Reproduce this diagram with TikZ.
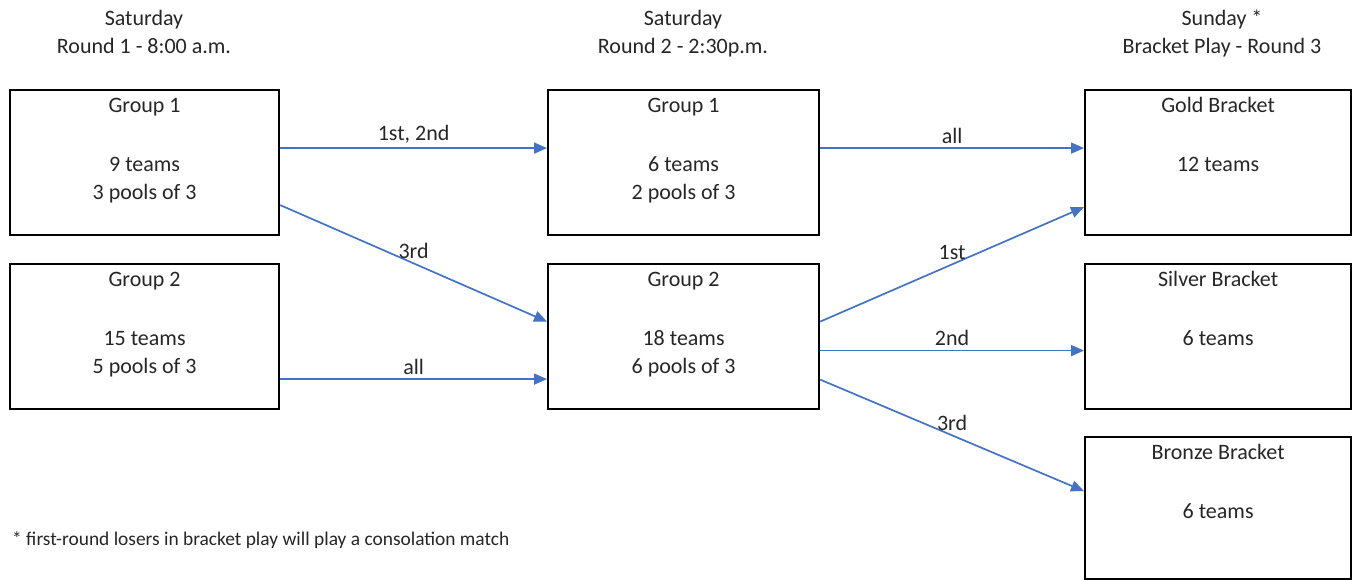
\documentclass[tikz,border=0pt]{standalone}
\usepackage{fontspec}
\setmainfont{Carlito}
\usetikzlibrary{arrows.meta}

\definecolor{arrowblue}{HTML}{4472C4}
\definecolor{txtgray}{HTML}{262626}

% text of a box: first line near the top, the rest lower down
\newcommand{\boxlines}[3][145pt]{\parbox[c][#1][t]{#2}{\centering\rule{0pt}{22pt}#3}}

\begin{document}
\begin{tikzpicture}[x=1pt, y=-1pt, font=\fontsize{22}{28}\selectfont,
    box/.style={draw=black, line width=2.2pt, inner sep=0pt, anchor=north west, text=txtgray},
    flow/.style={draw=arrowblue, line width=1.7pt, -{Triangle[length=13pt,width=11pt]}},
    lbl/.style={text=txtgray, inner sep=4pt}]
    \useasboundingbox (0,0) rectangle (1354,580);

    % headings
    \node[lbl, align=center, anchor=north, inner sep=0pt] (hd1) at (144,10) {Saturday\\Round 1 - 8:00 a.m.};
    \node[lbl, align=center, anchor=north, inner sep=0pt] (hd2) at (683,10) {Saturday\\Round 2 - 2:30p.m.};
    \node[lbl, align=center, anchor=north, inner sep=0pt] (hd3) at (1222,10) {Sunday *\\Bracket Play - Round 3};

    % round 1
    \node[box] (r1g1) at (9,89) {\boxlines{269pt}{Group 1\\[31pt]9 teams\\3 pools of 3}};
    \node[box] (r1g2) at (9,263) {\boxlines{269pt}{Group 2\\[31pt]15 teams\\5 pools of 3}};

    % round 2
    \node[box] (r2g1) at (547,89) {\boxlines{271pt}{Group 1\\[31pt]6 teams\\2 pools of 3}};
    \node[box] (r2g2) at (547,263) {\boxlines{271pt}{Group 2\\[31pt]18 teams\\6 pools of 3}};

    % brackets
    \node[box] (gold) at (1084,89) {\boxlines{266pt}{Gold Bracket\\[31pt]12 teams}};
    \node[box] (silver) at (1084,263) {\boxlines{266pt}{Silver Bracket\\[31pt]6 teams}};
    \node[box] (bronze) at (1084,436) {\boxlines[142pt]{266pt}{Bronze Bracket\\[31pt]6 teams}};

    % round 1 -> round 2
    \draw[flow] ([yshift=14.5pt]r1g1.east) -- node[lbl, above] {1st, 2nd} ([yshift=14.5pt]r2g1.west);
    \draw[flow] ([yshift=-42.5pt]r1g1.east) -- node[lbl, above] {3rd} ([yshift=15pt]r2g2.west);
    \draw[flow] ([yshift=-42.5pt]r1g2.east) -- node[lbl, above] {all} ([yshift=-42.5pt]r2g2.west);

    % round 2 -> brackets
    \draw[flow] ([yshift=14.5pt]r2g1.east) -- node[lbl, above] {all} ([yshift=14.5pt]gold.west);
    \draw[flow] ([yshift=15pt]r2g2.east) -- node[lbl, above] {1st} ([yshift=-44.5pt]gold.west);
    \draw[flow] ([yshift=-14pt]r2g2.east) -- node[lbl, above] {2nd} ([yshift=-14pt]silver.west);
    \draw[flow] ([yshift=-43pt]r2g2.east) -- node[lbl, above] {3rd} ([yshift=17pt]bronze.west);

    % footnote
    \node[lbl, anchor=base west, inner sep=0pt, font=\fontsize{19.4}{24}\selectfont] (note) at (12,545) {* first-round losers in bracket play will play a consolation match};
\end{tikzpicture}
\end{document}
